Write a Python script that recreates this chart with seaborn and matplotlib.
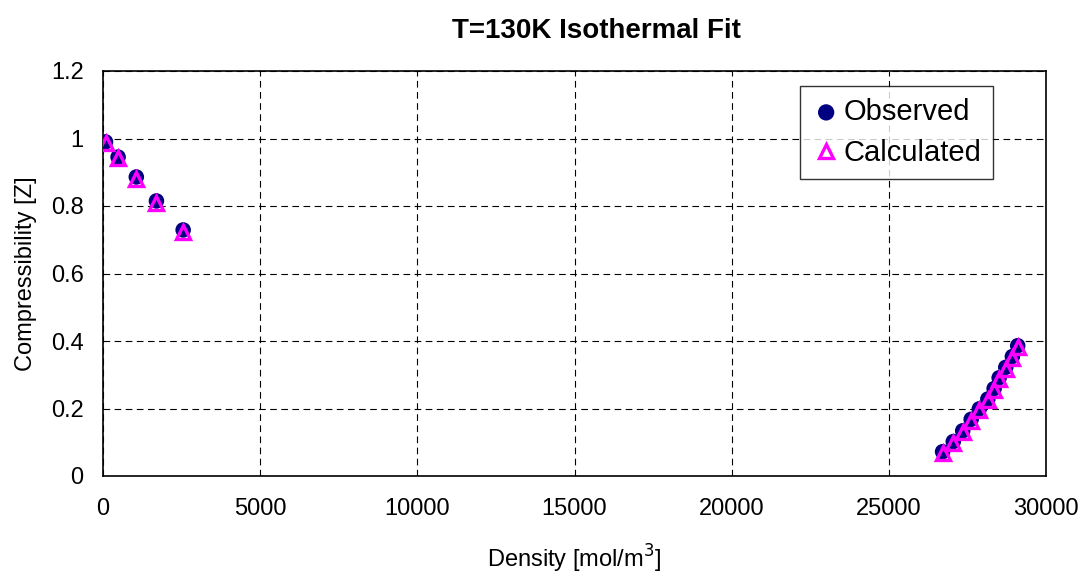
import numpy as np
import pandas as pd
import matplotlib
matplotlib.use("Agg")
import matplotlib.pyplot as plt
import seaborn as sns

# --- data ---
density = [80, 480, 1060, 1700, 2550,
           26710, 27050, 27350, 27620, 27880, 28150, 28350, 28510, 28720, 28930, 29100]
z_observed = [0.990, 0.945, 0.886, 0.815, 0.729,
              0.072, 0.102, 0.134, 0.168, 0.199, 0.228, 0.259, 0.291, 0.322, 0.354, 0.386]
z_calculated = [0.986, 0.941, 0.881, 0.810, 0.723,
                0.068, 0.098, 0.130, 0.164, 0.195, 0.224, 0.255, 0.287, 0.318, 0.350, 0.381]

df = pd.DataFrame({"density": density, "observed": z_observed, "calculated": z_calculated})

sns.set_style("white")
plt.rcParams["font.family"] = ["Liberation Sans", "DejaVu Sans"]
plt.rcParams["text.color"] = "black"
plt.rcParams["axes.labelcolor"] = "black"

fig = plt.figure(figsize=(10.84, 5.75), dpi=100)
ax = fig.add_axes([103 / 1084, 1 - 476 / 575, 943 / 1084, 405 / 575])

sns.scatterplot(data=df, x="density", y="observed", ax=ax, marker="o", s=125,
                color="#000080", edgecolor="none", label="Observed", zorder=3)
ax.plot(df["density"], df["calculated"], linestyle="none", marker="^", markersize=10,
        markerfacecolor="none", markeredgecolor="#FF00FF", markeredgewidth=2.4,
        label="Calculated", zorder=4)

ax.set_xlim(0, 30000)
ax.set_ylim(0, 1.2)
ax.set_xticks(np.arange(0, 30001, 5000))
ax.set_yticks(np.arange(0, 1.21, 0.2))
ax.set_yticklabels(["0", "0.2", "0.4", "0.6", "0.8", "1", "1.2"])
ax.grid(True, color="black", linestyle=(0, (6, 4)), linewidth=0.8)
ax.set_axisbelow(True)
for sp in ax.spines.values():
    sp.set_color("black")
    sp.set_linewidth(1.2)
ax.tick_params(axis="both", labelsize=17, colors="black", direction="in", length=4, width=1)
ax.tick_params(axis="x", pad=16)
ax.tick_params(axis="y", pad=14)

ax.set_xlabel("Density [mol/m$^3$]", fontsize=17, labelpad=16, color="black")
ax.set_ylabel("Compressibility [Z]", fontsize=17, labelpad=10, color="black")
fig.text(0.55, 0.946, "T=130K Isothermal Fit", ha="center", va="center",
         fontsize=20, fontweight="bold", color="black")

leg = ax.legend(loc="upper right", bbox_to_anchor=(0.944, 0.962), fontsize=21,
                frameon=True, fancybox=False, edgecolor="black", handletextpad=0.1,
                borderpad=0.4, labelspacing=0.45, handlelength=1.0, borderaxespad=0,
                markerscale=1.05)
leg.get_frame().set_linewidth(1.0)
for t in leg.get_texts():
    t.set_color("black")

fig.savefig("out.png", dpi=100)
